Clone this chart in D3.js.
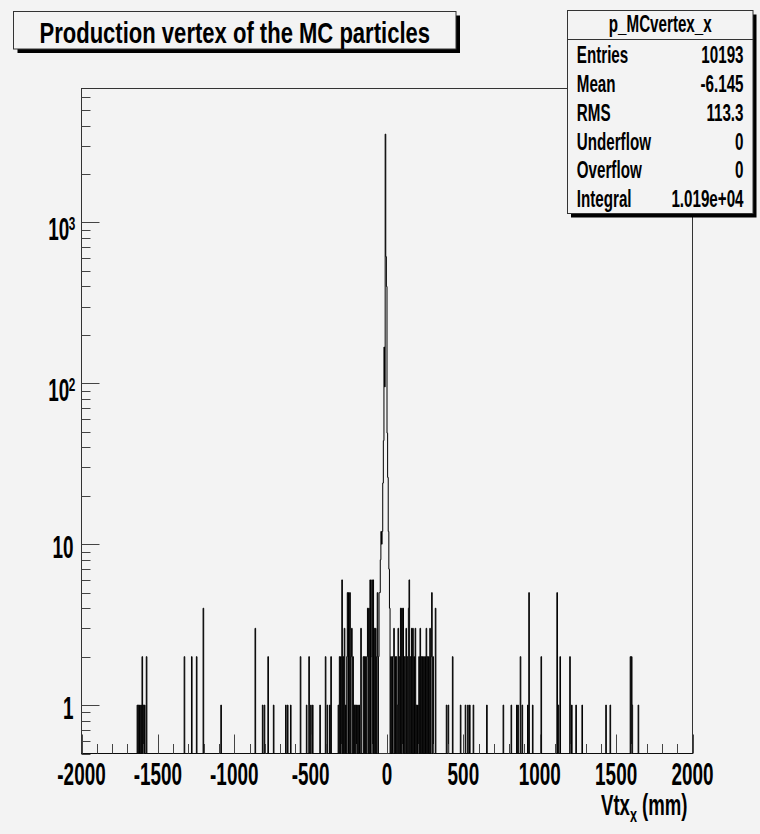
<!DOCTYPE html>
<html>
<head>
<meta charset="utf-8">
<script src="https://cdn.jsdelivr.net/npm/d3@7"></script>
<style>
  html, body { margin: 0; padding: 0; background: #f3f3f3; }
  svg text {
    font-family: "Liberation Sans", Arial, Helvetica, sans-serif;
    font-weight: bold;
    fill: #000;
  }
</style>
</head>
<body>
<div id="chart"></div>
<script>
const titleText = 'Production vertex of the MC particles';
const histName = 'p_MCvertex_x';
const statLabels = ['Entries', 'Mean', 'RMS', 'Underflow', 'Overflow', 'Integral'];
const statValues = ['10193', '-6.145', '113.3', '0', '0', '1.019e+04'];

const xRange = [-2000, 2000];
const yRange = [0.5, 6800];
const binWidth = 4; // mm
const xTickLabels = ['-2000', '-1500', '-1000', '-500', '0', '500', '1000', '1500', '2000'];
const yLabelValues = [1, 10, 100, 1000];
const yLabelBases = ['1', '10', '10', '10'];
const yLabelExponents = ['', '', '2', '3'];

// non-empty bins: [bin centre in mm, entries]
const filledBins = [
  [-1634, 1], [-1626, 1], [-1618, 1], [-1610, 1], [-1602, 2], [-1594, 1], [-1586, 1], [-1574, 2],
  [-1326, 2], [-1278, 2], [-1246, 2], [-1202, 4], [-1086, 1], [-862, 3], [-814, 1], [-802, 1],
  [-778, 2], [-742, 1], [-662, 1], [-650, 1], [-630, 1], [-566, 2], [-526, 1], [-510, 2],
  [-498, 1], [-486, 1], [-438, 1], [-402, 2], [-390, 1], [-374, 1], [-366, 2],
  [-318, 1], [-310, 2], [-302, 2], [-294, 6], [-286, 2], [-278, 3], [-270, 1], [-262, 2],
  [-258, 5], [-250, 5], [-242, 5], [-234, 2], [-230, 3], [-222, 2], [-214, 1], [-206, 1],
  [-198, 1], [-190, 1], [-182, 1], [-170, 3],
  [-154, 2], [-146, 2], [-138, 2], [-130, 2], [-126, 4], [-118, 4], [-110, 6], [-102, 2],
  [-98, 6], [-90, 6], [-82, 3], [-74, 3], [-66, 2], [-62, 5], [-54, 2], [-50, 5],
  [-46, 5], [-42, 8], [-38, 12], [-34, 10], [-30, 12], [-26, 24], [-22, 44], [-18, 168],
  [-14, 95], [-10, 3540], [-6, 613], [-2, 400], [2, 49], [6, 26], [10, 12], [14, 7], [18, 4],
  [26, 2], [34, 2], [42, 2], [46, 3], [54, 2], [62, 2], [70, 1], [74, 3], [82, 2], [90, 4],
  [98, 4], [106, 4], [114, 2], [122, 2], [126, 3], [134, 2], [142, 4], [146, 6], [154, 2],
  [162, 3], [170, 3], [178, 2], [186, 3], [194, 1], [202, 1], [210, 2], [218, 3], [226, 2],
  [234, 2], [242, 2], [250, 2], [258, 3], [266, 2], [274, 2], [282, 3], [290, 2], [294, 5],
  [302, 2], [318, 4],
  [390, 1], [402, 1], [430, 2], [482, 1], [514, 1], [530, 1], [542, 1], [566, 1], [654, 1],
  [762, 1], [814, 1], [850, 1], [858, 1], [874, 2], [886, 1], [922, 1], [930, 5], [954, 1],
  [1010, 2], [1114, 5], [1122, 1], [1134, 2], [1198, 2], [1210, 1], [1238, 1], [1278, 1],
  [1434, 1], [1462, 1], [1594, 2], [1602, 2], [1606, 1], [1646, 1]
];

class VertexHistogram {
  constructor({ parent }) {
    this.parent = parent;
    this.width = 760;
    this.height = 834;
    this.frame = { left: 81.5, right: 692.5, top: 88.5, bottom: 753.5 };
    this.initVis();
    this.wrangleData();
  }

  initVis() {
    this.svg = d3
      .select(this.parent)
      .append('svg')
      .attr('width', this.width)
      .attr('height', this.height);

    this.svg
      .append('rect')
      .attr('width', this.width)
      .attr('height', this.height)
      .attr('fill', '#f3f3f3');

    this.x = d3.scaleLinear().domain(xRange).range([this.frame.left, this.frame.right]);
    this.y = d3.scaleLog().domain(yRange).range([this.frame.bottom, this.frame.top]);

    this.plot = this.svg.append('g').attr('class', 'plot');
    this.axes = this.svg.append('g').attr('class', 'axes');
    this.boxes = this.svg.append('g').attr('class', 'boxes');
  }

  wrangleData() {
    const nBins = Math.round((xRange[1] - xRange[0]) / binWidth);
    const counts = new Array(nBins).fill(0);
    filledBins.forEach(([centre, n]) => {
      const idx = Math.floor((centre - xRange[0]) / binWidth);
      if (idx >= 0 && idx < nBins) counts[idx] += n;
    });
    this.counts = counts;
    this.updateVis();
  }

  text(parent, { x, y, text, size, sx, anchor = 'start' }) {
    return parent
      .append('text')
      .attr('transform', `translate(${x},${y}) scale(${sx},1)`)
      .attr('text-anchor', anchor)
      .style('font-size', `${size}px`)
      .text(text);
  }

  updateVis() {
    const f = this.frame;

    // frame
    this.plot
      .append('rect')
      .attr('x', f.left)
      .attr('y', f.top)
      .attr('width', f.right - f.left)
      .attr('height', f.bottom - f.top)
      .attr('fill', 'none')
      .attr('stroke', '#333')
      .attr('stroke-width', 1);

    // histogram outline, empty bins sit on the frame bottom
    const pts = [[this.x(xRange[0]), f.bottom]];
    this.counts.forEach((n, i) => {
      const lo = xRange[0] + i * binWidth;
      const yy = n > 0 ? this.y(n) : f.bottom;
      pts.push([this.x(lo), yy], [this.x(lo + binWidth), yy]);
    });
    pts.push([this.x(xRange[1]), f.bottom]);

    this.plot
      .append('path')
      .attr('d', d3.line()(pts))
      .attr('fill', 'none')
      .attr('stroke', '#000')
      .attr('stroke-width', 1);

    // y ticks (log)
    const isDecade = t => Math.abs(Math.log10(t) - Math.round(Math.log10(t))) < 1e-9;
    this.axes
      .selectAll('.ytick')
      .data(this.y.ticks())
      .join('line')
      .attr('class', 'ytick')
      .attr('x1', f.left)
      .attr('x2', d => f.left + (isDecade(d) ? 18 : 9))
      .attr('y1', d => Math.round(this.y(d)) + 0.5)
      .attr('y2', d => Math.round(this.y(d)) + 0.5)
      .attr('stroke', '#444')
      .attr('stroke-width', 1);

    // x ticks
    this.axes
      .selectAll('.xtick')
      .data(this.x.ticks(40))
      .join('line')
      .attr('class', 'xtick')
      .attr('x1', d => Math.round(this.x(d)) + 0.5)
      .attr('x2', d => Math.round(this.x(d)) + 0.5)
      .attr('y1', f.bottom)
      .attr('y2', d => f.bottom - (d % 500 === 0 ? 19 : 9.5))
      .attr('stroke', '#444')
      .attr('stroke-width', 1);

    // x labels
    const labelSize = 30.5;
    const labelSx = 0.62;
    xTickLabels.forEach(label => {
      this.text(this.axes, {
        x: this.x(+label),
        y: 785,
        text: label,
        size: labelSize,
        sx: labelSx,
        anchor: 'middle'
      });
    });

    // y labels
    yLabelValues.forEach((v, i) => {
      const ty = this.y(v);
      if (yLabelExponents[i]) {
        this.text(this.axes, { x: 69.3, y: ty + 17.5, text: yLabelBases[i], size: labelSize, sx: labelSx, anchor: 'end' });
        this.text(this.axes, { x: 68.8, y: ty + 8, text: yLabelExponents[i], size: 19, sx: labelSx });
      } else {
        this.text(this.axes, { x: 73.5, y: ty + 13.5, text: yLabelBases[i], size: labelSize, sx: labelSx, anchor: 'end' });
      }
    });

    // axis title Vtx_x (mm)
    const axisTitle = this.axes
      .append('text')
      .attr('transform', `translate(687.5,815) scale(0.63,1)`)
      .attr('text-anchor', 'end')
      .style('font-size', '29.5px');
    axisTitle.append('tspan').text('Vtx');
    axisTitle.append('tspan').attr('dy', 7).style('font-size', '20px').text('x');
    axisTitle.append('tspan').attr('dy', -7).text(' (mm)');

    // title box
    const tb = { x: 13.5, y: 11.5, w: 442.5, h: 37.5 };
    this.boxes.append('rect')
      .attr('x', tb.x + 4).attr('y', tb.y + 4)
      .attr('width', tb.w).attr('height', tb.h)
      .attr('fill', '#000');
    this.boxes.append('rect')
      .attr('x', tb.x).attr('y', tb.y)
      .attr('width', tb.w).attr('height', tb.h)
      .attr('fill', '#f3f3f3')
      .attr('stroke', '#333');
    this.text(this.boxes, { x: tb.x + tb.w / 2, y: 43.3, text: titleText, size: 29, sx: 0.76, anchor: 'middle' });

    // stats box
    const sb = { x: 567.5, y: 10.5, w: 185.5, h: 203 };
    this.boxes.append('rect')
      .attr('x', sb.x + 3.5).attr('y', sb.y + 4)
      .attr('width', sb.w).attr('height', sb.h)
      .attr('fill', '#000');
    this.boxes.append('rect')
      .attr('x', sb.x).attr('y', sb.y)
      .attr('width', sb.w).attr('height', sb.h)
      .attr('fill', '#f3f3f3')
      .attr('stroke', '#333');
    this.boxes.append('line')
      .attr('x1', sb.x).attr('x2', sb.x + sb.w)
      .attr('y1', 39.5).attr('y2', 39.5)
      .attr('stroke', '#333');
    this.text(this.boxes, { x: sb.x + sb.w / 2, y: 31.7, text: histName, size: 23, sx: 0.66, anchor: 'middle' });
    statLabels.forEach((label, i) => {
      const yy = 63.3 + i * 28.75;
      this.text(this.boxes, { x: 576.8, y: yy, text: label, size: 23, sx: 0.66 });
      this.text(this.boxes, { x: 743.5, y: yy, text: statValues[i], size: 23, sx: 0.66, anchor: 'end' });
    });
  }
}

new VertexHistogram({ parent: '#chart' });
</script>
</body>
</html>
